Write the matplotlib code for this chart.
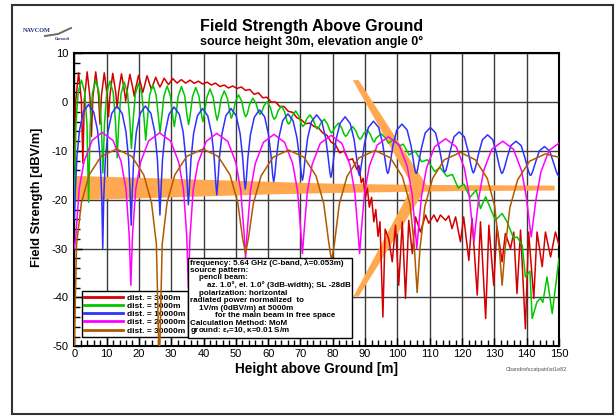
import numpy as np
import matplotlib
matplotlib.use('Agg')
import matplotlib.pyplot as plt
from matplotlib.patches import Rectangle, Polygon
from matplotlib.lines import Line2D

plt.rcParams['font.family'] = ['Liberation Sans', 'DejaVu Sans']
plt.rcParams['axes.unicode_minus'] = False

# ---- data (height [m], field strength [dBV/m]) ----
red_x = [0, 0.45, 1.33, 2.2, 2.65, 3.1, 3.98, 4.85, 5.3, 5.75, 6.63, 7.5, 7.95,
         8.4, 9.28, 10.15, 10.6, 11.05, 11.9, 12.8, 13.25, 13.7, 14.6, 15.45, 15.9,
         16.35, 17.2, 18.1, 18.55, 19.0, 19.9, 20.75, 21.2, 21.65, 22.5, 23.4, 23.85,
         24.3, 25.2, 26.05, 26.5, 26.95, 27.8, 28.7, 29.15,
         30.5, 31.8, 33.1, 34.45, 35.8, 37.1, 38.4, 39.75, 41.1, 42.4, 43.7, 45.05,
         46.4, 47.7, 49.0, 50.35, 51.7, 53.0, 54.3, 55.65, 57.0, 58.3, 59.6, 60.95,
         62.3, 63.6, 64.9, 66.25, 67.6, 68.9, 70.2, 71.55, 72.9, 74.2, 75.5, 76.85,
         78.2, 79.5, 80.8, 82.15, 83.5, 84.8, 86.1, 87.45,
         88.1, 88.8, 89.4, 90.1, 90.7, 91.3, 92.0, 92.7, 93.3, 94.0, 94.6, 95.5, 96.2,
         97.3, 98.4, 99.4, 100.4, 101.5, 102.5, 103.5, 104.6, 105.6, 107.1, 108.7,
         109.7, 111.3, 112.3, 113.3, 114.9, 115.9, 116.9, 118.0, 119.5, 120.5, 122.1,
         123.1, 124.7, 125.7, 127.3, 128.3, 129.8, 130.8, 132.4, 133.4, 135.0, 136.0,
         137.0, 138.1, 139.6, 140.6, 142.2, 143.2, 144.8, 145.8, 147.4, 148.9, 150.0]
red_y = [-13, 0.3, 6.0, 0.35, -12.5, 0.5, 6.2, 1.0, -7.0, 1.0, 6.2, 1.4, -4.5,
         1.3, 6.0, 1.5, -3.0, 1.5, 5.9, 2.1, -1.2, 2.0, 5.8, 2.5, 0.2,
         2.4, 5.7, 2.9, 1.2, 2.9, 5.5, 3.2, 2.0, 3.1, 5.4, 3.5, 2.6,
         3.4, 5.1, 3.7, 3.1, 3.65, 4.9, 4.0, 3.6,
         4.8, 3.9, 4.6, 3.9, 4.5, 3.85, 4.3, 3.7, 4.1, 3.5, 3.9, 3.2,
         3.5, 2.9, 3.3, 2.8, 3.1, 2.4, 2.6, 1.6, 1.9, 0.9, 1.0, 0.0,
         0.0, -0.9, -0.9, -1.9, -2.1, -3.2, -3.6, -4.4, -4.3, -5.0, -5.2, -6.3,
         -6.8, -8.2, -8.7, -10.4, -10.0, -11.9, -11.6, -13.8,
         -13.0, -16.5, -15.6, -19.5, -17.6, -21.5, -19.5, -24.5, -22.0, -27.5, -24.5, -44.0, -26.0,
         -28.0, -32.7, -25.2, -37.5, -24.5, -40.2, -24.2, -31.0, -23.5, -26.6, -23.1,
         -24.8, -23.1, -24.5, -23.1, -24.2, -23.3, -25.9, -23.5, -28.6, -23.5, -32.4,
         -23.8, -39.5, -24.5, -44.3, -25.2, -37.5, -25.5, -32.7, -26.9, -30.0, -26.6,
         -39.2, -26.2, -46.4, -26.6, -40.2, -26.6, -33.7, -26.6, -31.7, -26.6, -29.3]

green_x = [0, 0.5, 1.2, 2.21, 3.22, 3.92, 4.42, 4.92, 5.62, 6.63, 7.64, 8.34, 8.84,
           9.34, 10.04, 11.05, 12.06, 12.76, 13.26, 13.76, 14.46, 15.47, 16.48, 17.18, 17.68,
           18.18, 18.88, 19.89, 20.9, 21.6, 22.1, 22.6, 23.3, 24.31, 25.32, 26.02, 26.52,
           27.02, 27.72, 28.73, 29.74, 30.44, 30.94, 31.44, 32.14, 33.15, 34.16, 34.86, 35.36,
           35.86, 36.56, 37.57, 38.58, 39.28, 39.78, 40.28, 40.98, 41.99, 43.0, 43.7, 44.2,
           44.7, 45.4, 46.41, 47.42, 48.12, 48.62, 49.12, 49.82, 50.83, 51.84, 52.54, 53.04,
           53.54, 54.24, 55.25, 56.26, 56.96, 57.46, 57.96, 58.66, 59.67, 60.68, 61.38, 61.88,
           62.38, 63.08, 64.09, 65.1, 65.8, 66.3, 66.8, 67.5, 68.51, 69.52, 70.22, 70.72,
           71.22, 71.92, 72.93, 73.94, 74.64, 75.14, 75.64, 76.34, 77.35, 78.36, 79.06, 79.56,
           80.06, 80.76, 81.77, 82.78, 83.48, 83.98, 84.48, 85.18, 86.19, 87.2, 87.9, 88.4,
           88.9, 89.6, 90.61, 91.62, 92.32, 92.82, 93.5, 95.03, 96.2, 97.2,
           99.0, 100.5, 101.8, 103.6, 105.5, 107.5, 109.3, 111.5, 113.2, 115.3, 117.0,
           118.8, 120.6, 122.4, 124.4, 125.7, 127.3, 128.6, 130.3, 132.4, 133.9, 136.0,
           137.0, 138.6, 139.6, 141.0, 141.7, 143.2, 144.3, 145.0, 146.3, 147.9, 150.0]
green_y = [-22, -4.6, 2.05, 4.5, 2.05, -4.6, -20.5, -4.7, 1.95, 4.4, 2.0, -4.4, -14.5,
           -4.5, 1.9, 4.3, 1.9, -4.1, -11.4, -4.3, 1.7, 4.1, 1.8, -3.8, -9.5,
           -4.0, 1.6, 3.9, 1.7, -3.5, -7.8, -3.7, 1.4, 3.6, 1.5, -3.1, -6.2,
           -3.3, 1.2, 3.3, 1.3, -2.8, -5.0, -2.8, 1.2, 3.2, 1.3, -2.6, -4.6,
           -2.7, 1.1, 3.0, 1.2, -2.3, -4.0, -2.4, 0.9, 2.7, 0.95, -2.2, -3.7,
           -2.4, 0.6, 2.3, 0.7, -2.1, -3.3, -2.4, 0.0, 1.5, 0.1, -2.2, -3.0,
           -2.4, -0.5, 0.8, -0.3, -1.9, -2.5, -2.1, -0.8, 0.1, -1.1, -2.9, -3.5,
           -3.1, -1.75, -0.8, -2.0, -3.9, -4.5, -4.1, -2.75, -1.8, -2.9, -4.4, -5.0,
           -4.6, -3.45, -2.6, -3.6, -5.0, -5.5, -5.2, -4.25, -3.5, -4.5, -5.8, -6.3,
           -6.0, -5.05, -4.3, -5.3, -6.6, -7.0, -6.7, -5.75, -5.0, -5.95, -7.2, -7.6,
           -7.3, -6.4, -5.7, -6.6, -7.8, -8.2, -7.3, -6.5, -7.3, -8.4,
           -7.6, -9.0, -8.6, -10.8, -10.0, -12.2, -11.8, -14.2, -13.4, -15.2, -14.8,
           -17.6, -16.8, -19.5, -18.0, -21.8, -19.4, -21.5, -24.2, -22.8, -24.5, -27.9,
           -27.6, -29.3, -35.8, -34.6, -44.3, -40.9, -40.2, -41.0, -35.8, -43.3, -32.0]

blue_x = [0, 0.3, 0.8, 1.6, 2.8, 4.4, 6.0, 7.2, 8.0, 8.5, 8.8,
          9.1, 9.6, 10.4, 11.6, 13.2, 14.8, 16.0, 16.8, 17.3, 17.6,
          17.9, 18.4, 19.2, 20.4, 22.0, 23.7, 24.9, 25.7, 26.2, 26.5,
          26.8, 27.3, 28.1, 29.3, 30.9, 32.5, 33.7, 34.5, 35.0, 35.3,
          35.6, 36.1, 36.9, 38.1, 39.7, 41.3, 42.5, 43.3, 43.8, 44.1,
          44.4, 44.9, 45.7, 46.9, 48.5, 50.1, 51.3, 52.1, 52.6, 52.9,
          53.2, 53.7, 54.5, 55.7, 57.3, 58.9, 60.1, 60.9, 61.4, 61.7,
          62.0, 62.5, 63.3, 64.5, 66.1, 67.7, 68.9, 69.7, 70.3, 70.6,
          70.9, 71.4, 72.2, 73.4, 75.0, 76.6, 77.8, 78.6, 79.1, 79.4,
          79.7, 80.2, 81.0, 82.2, 83.8, 85.4, 86.6, 87.4, 87.9, 88.2,
          88.5, 89.0, 89.8, 91.0, 92.6, 94.2, 95.4, 96.2, 96.7, 97.0,
          97.3, 97.8, 98.6, 99.8, 101.4, 103.0, 104.2, 105.0, 105.5, 105.8,
          106.1, 106.6, 107.4, 108.6, 110.2, 111.8, 113.0, 113.8, 114.4, 114.7,
          115.0, 115.5, 116.3, 117.5, 119.1, 120.7, 121.9, 122.7, 123.2, 123.5,
          123.8, 124.3, 125.1, 126.3, 127.9, 129.5, 130.7, 131.5, 132.0, 132.3,
          132.6, 133.1, 133.9, 135.1, 136.7, 138.3, 139.5, 140.3, 140.8, 141.1,
          141.4, 141.9, 142.7, 143.9, 145.5, 147.1, 148.3, 149.1, 149.6, 150.0]
blue_y = [-24, -18.5, -11.3, -5.8, -2.0, -0.5, -2.0, -5.8, -11.4, -19.5, -30.0,
          -19.8, -11.7, -6.1, -2.3, -0.8, -2.3, -6.1, -11.6, -19.0, -25.2,
          -19.0, -11.6, -6.1, -2.3, -0.8, -2.3, -6.1, -11.5, -18.3, -23.1,
          -18.5, -11.7, -6.3, -2.5, -1.0, -2.5, -6.2, -11.5, -17.6, -21.0,
          -17.8, -11.8, -6.5, -2.8, -1.3, -2.8, -6.5, -11.5, -16.7, -19.0,
          -16.7, -11.5, -6.5, -2.8, -1.3, -2.8, -6.4, -11.3, -16.0, -17.8,
          -16.1, -11.5, -6.7, -3.1, -1.6, -3.0, -6.6, -11.1, -15.0, -16.3,
          -15.2, -11.7, -7.3, -3.8, -2.4, -3.8, -7.3, -11.5, -14.9, -16.0,
          -15.0, -11.7, -7.4, -4.0, -2.6, -4.0, -7.4, -11.5, -14.4, -15.4,
          -14.6, -11.8, -7.7, -4.4, -3.0, -4.4, -7.7, -11.6, -14.3, -15.0,
          -14.4, -12.1, -8.5, -5.2, -3.9, -5.2, -8.4, -11.9, -14.1, -14.6,
          -14.2, -12.3, -8.9, -5.7, -4.5, -5.7, -8.9, -12.3, -14.2, -14.6,
          -14.3, -12.5, -9.5, -6.3, -5.2, -6.3, -9.5, -12.4, -14.1, -14.3,
          -14.0, -12.7, -10.1, -7.1, -6.1, -7.1, -10.1, -12.8, -14.1, -14.5,
          -14.1, -13.0, -10.6, -7.7, -6.7, -7.7, -10.6, -13.0, -14.2, -14.6,
          -14.4, -13.5, -11.5, -8.9, -8.0, -8.9, -11.5, -13.6, -14.6, -15.0,
          -14.9, -14.1, -12.4, -10.0, -9.1, -10.0, -12.4, -14.1, -14.9, -15.2]

magenta_x = [0, 0.5, 1.5, 3.0, 5.5, 8.6, 12.0, 14.5, 16.0, 17.0, 17.5,
             18.0, 19.0, 20.5, 23.0, 26.4, 29.8, 32.3, 33.8, 34.8, 35.3,
             35.8, 36.8, 38.3, 40.8, 44.1, 47.5, 50.0, 51.5, 52.5, 53.0,
             53.5, 54.5, 56.0, 58.5, 61.8, 65.1, 67.6, 69.1, 70.1, 70.6,
             71.1, 72.1, 73.6, 76.1, 79.5, 82.8, 85.3, 86.8, 87.8, 88.3,
             88.8, 89.8, 91.3, 93.8, 97.2, 100.5, 103.0, 104.5, 105.5, 106.0,
             106.5, 107.5, 109.0, 111.5, 114.9, 118.2, 120.7, 122.2, 123.2, 123.7,
             124.2, 125.2, 126.7, 129.2, 132.6, 135.9, 138.4, 139.9, 140.9, 141.4,
             141.9, 142.9, 144.4, 146.9, 150.0]
magenta_y = [-30, -27.3, -17.8, -12.2, -7.85, -6.2, -7.85, -12.2, -17.8, -27.3, -37.5,
             -27.4, -17.9, -12.3, -7.95, -6.3, -7.95, -12.3, -17.9, -27.4, -38.0,
             -27.5, -18.0, -12.4, -8.05, -6.4, -8.05, -12.4, -18.0, -26.5, -32.0,
             -26.5, -18.2, -12.6, -8.25, -6.6, -8.25, -12.6, -18.2, -26.5, -31.0,
             -26.6, -18.4, -12.8, -8.45, -6.8, -8.45, -12.8, -18.4, -26.6, -31.0,
             -26.5, -18.7, -13.1, -8.75, -7.1, -8.75, -13.1, -18.7, -26.0, -30.0,
             -26.0, -19.0, -13.5, -9.15, -7.5, -9.15, -13.5, -19.0, -25.5, -28.5,
             -25.3, -19.5, -14.0, -9.65, -8.0, -9.65, -14.0, -19.5, -25.0, -27.6,
             -25.0, -19.8, -14.3, -9.9, -8.4]

brown_x = [0, 0.7, 2.2, 4.6, 8.3, 13.1, 17.8, 21.5, 23.9, 25.4, 26.3,
           27.2, 28.7, 31.1, 34.8, 39.8, 44.5, 48.2, 50.6, 52.1, 53.0,
           53.9, 55.4, 57.8, 61.5, 66.3, 71.1, 74.8, 77.2, 78.7, 79.6,
           80.5, 82.0, 84.4, 88.1, 93.1, 97.8, 101.5, 103.9, 105.2, 106.1,
           107.0, 108.5, 110.9, 114.5, 119.5, 124.1, 127.8, 130.1, 131.5, 132.4,
           133.3, 134.8, 137.2, 140.9, 145.8, 150.0]
brown_y = [-50, -29.1, -20.6, -14.9, -11.1, -9.6, -11.1, -14.9, -20.6, -29.1, -55,
           -29.1, -20.6, -14.9, -11.1, -9.6, -11.1, -14.9, -20.6, -28.0, -31.0,
           -27.8, -20.8, -15.1, -11.3, -9.8, -11.3, -15.1, -20.8, -28.5, -32.5,
           -29.0, -20.9, -15.2, -11.4, -9.9, -11.4, -15.2, -20.9, -29.4, -39.0,
           -29.8, -21.3, -15.6, -11.8, -10.3, -11.8, -15.6, -21.3, -29.8, -37.5,
           -30.1, -21.6, -15.9, -12.1, -10.6, -11.3]

# orange beam marker: horizontal band plus two converging strokes
band_x = [0, 20, 40, 60, 80, 100, 120, 148.5]
band_hi = [-15.0, -15.4, -15.8, -16.2, -16.6, -16.8, -16.9, -17.0]
band_lo = [-20.0, -19.6, -19.2, -18.8, -18.5, -18.3, -18.1, -18.0]
desc_x = [86.2, 88.0, 109.0, 104.5]
desc_y = [4.5, 4.5, -17.0, -17.0]
rise_x = [86.4, 88.0, 108.5, 104.0]
rise_y = [-39.8, -39.8, -18.0, -18.0]

labels = ['dist. = 3000m', 'dist. = 5000m', 'dist. = 10000m',
          'dist. = 20000m', 'dist. = 30000m']
colors = ['#D40000', '#00C800', '#3030FF', '#FF00FF', '#B05A00']

info_lines = ['frequency: 5.64 GHz (C-band, \u03bb=0.053m)',
              'source pattern:',
              'pencil beam:',
              'az. 1.0\u00b0, el. 1.0\u00b0 (3dB-width); SL -28dB',
              'polarization: horizontal',
              'radiated power normalized  to',
              '1V/m (0dBV/m) at 5000m',
              'for the main beam in free space',
              'Calculation Method: MoM',
              'ground: \u03b5$_\\mathregular{r}$=10, \u03ba=0.01 S/m']
info_indent = [0, 0, 2.9, 5.2, 2.9, 0, 2.9, 7.7, 0, 0]

W, H = 616, 416
fig = plt.figure(figsize=(W / 100, H / 100), dpi=100)
ax = fig.add_axes([74.3 / W, 1 - 346.3 / H, (559 - 74.3) / W, 293 / H])

orange = '#FFA850'
ax.fill_between(band_x, band_lo, band_hi, color=orange, lw=0, zorder=2)
ax.add_patch(Polygon(np.column_stack([desc_x, desc_y]), closed=True,
                     fc=orange, ec='none', zorder=2))
ax.add_patch(Polygon(np.column_stack([rise_x, rise_y]), closed=True,
                     fc=orange, ec='none', zorder=2))

series = [(red_x, red_y), (green_x, green_y), (blue_x, blue_y),
          (magenta_x, magenta_y), (brown_x, brown_y)]
for (x, y), c, lab in zip(series, colors, labels):
    ax.plot(x, y, color=c, lw=1.1, label=lab, zorder=3)

ax.set_xlim(0, 150)
ax.set_ylim(-50, 10)
ax.set_xticks(np.arange(0, 151, 10))
ax.set_xticks(np.arange(0, 151, 2), minor=True)
ax.set_yticks(np.arange(-50, 11, 10))
ax.set_yticks(np.arange(-50, 11, 2), minor=True)
ax.tick_params(which='both', direction='in', top=False, right=False,
               labelsize=8, width=1, color='black')
ax.tick_params(which='major', length=6)
ax.tick_params(which='minor', length=4)
ax.tick_params(axis='x', pad=1.8)
ax.tick_params(axis='y', pad=4.5)
ax.grid(which='major', color='#3c3c3c', lw=1.0)
for s in ax.spines.values():
    s.set_linewidth(1.5)

leg = ax.legend(loc='lower left', bbox_to_anchor=(2.3 / 150, 1.9 / 60),
                borderaxespad=0, prop={'size': 6, 'weight': 'bold'},
                handlelength=4.6, handletextpad=0.55, labelspacing=0.05,
                borderpad=0.3, fancybox=False, edgecolor='black', framealpha=1)
leg.get_frame().set_linewidth(1.0)
for ln in leg.get_lines():
    ln.set_linewidth(2.0)
leg.set_zorder(2.5)

ax.add_patch(Rectangle((35.2, -48.2), 50.6, 16.3, fc='white', ec='black',
                       lw=1.0, zorder=4))
for i, (line, ind) in enumerate(zip(info_lines, info_indent)):
    ax.text(35.8 + ind, -32.9 - i * 1.55, line, fontsize=5.8, weight='bold',
            ha='left', va='center', zorder=5)

fig.text(312 / W, 1 - 26 / H, 'Field Strength Above Ground', fontsize=11.5,
         weight='bold', ha='center', va='center')
fig.text(312 / W, 1 - 42.3 / H, 'source height 30m, elevation angle 0\u00b0',
         fontsize=9, weight='bold', ha='center', va='center')
fig.text(316.6 / W, 1 - 369 / H, 'Height above Ground [m]', fontsize=9.8,
         weight='bold', ha='center', va='center')
fig.text(37.3 / W, 1 - 197 / H, 'Field Strength [dBV/m]', fontsize=9.3,
         weight='bold', ha='center', va='center', rotation=90)
fig.text(536 / W, 1 - 369 / H, 'Cbandrefscatpatdist1e82', fontsize=4,
         color='#555555', ha='center', va='center')

# small logo top left
fig.text(23 / W, 1 - 31 / H, 'NAVCOM', fontsize=4.5, family='Liberation Serif',
         weight='bold', color='#22307a', va='center')
fig.add_artist(Line2D([45 / W, 58 / W, 71 / W], [1 - 36 / H, 1 - 34 / H, 1 - 28 / H],
                      transform=fig.transFigure, color='#6a6a6a', lw=1.4))
fig.text(55 / W, 1 - 38.5 / H, 'Consult', fontsize=3, weight='bold',
         color='#22307a', va='center')

fig.add_artist(Rectangle((12 / W, 1 - 414 / H), (613 - 12) / W, (414 - 5) / H,
                         transform=fig.transFigure, fill=False,
                         ec='#333333', lw=1.5))

fig.savefig('out.png', dpi=100)
